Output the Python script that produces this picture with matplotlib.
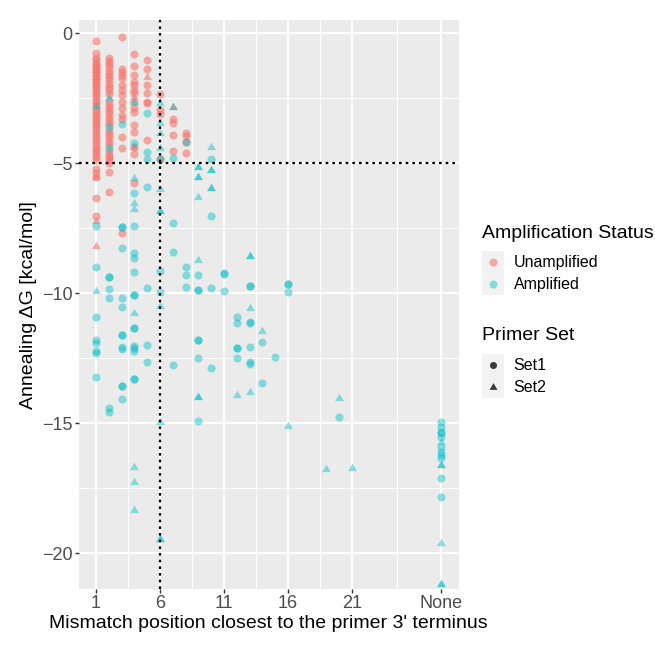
import matplotlib
matplotlib.use("Agg")
import matplotlib.pyplot as plt
from matplotlib.patches import Rectangle

plt.rcParams['font.family'] = ['Liberation Sans', 'DejaVu Sans']

# data: mismatch position (28 = "None") and annealing dG
# Unamplified, primer Set1
unamp_s1_x = [1]*47 + [2]*32 + [3]*15 + [4]*15 + [5]*7 + [6]*4 + [7]*4 + [8]*4
unamp_s1_y = [-0.30, -0.78, -0.95, -1.05, -1.15, -1.22, -1.30, -1.38, -1.48, -1.55,
              -1.65, -1.75, -1.85, -1.95, -2.05, -2.12, -2.22, -2.32, -2.40, -2.50,
              -2.60, -2.70, -2.80, -2.95, -3.05, -3.15, -3.25, -3.35, -3.45, -3.55,
              -3.65, -3.78, -3.88, -4.00, -4.10, -4.22, -4.35, -4.45, -4.55, -4.65,
              -4.75, -4.88, -5.24, -5.37, -5.55, -6.36, -7.04,
              -0.97, -1.08, -1.20, -1.32, -1.45, -1.58, -1.70, -1.82, -1.95, -2.08,
              -2.20, -2.35, -2.62, -2.75, -2.88, -3.00, -3.12, -3.25, -3.38, -3.50,
              -3.75, -3.88, -4.00, -4.15, -4.28, -4.55, -4.68, -4.78, -4.88, -5.01,
              -5.33, -6.10,
              -0.16, -1.38, -1.49, -1.62, -1.74, -2.00, -2.19, -2.38, -2.64, -2.90,
              -3.15, -3.32, -3.99, -4.44, -7.68,
              -0.82, -1.25, -1.62, -1.90, -2.00, -2.19, -2.32, -2.64, -2.90, -3.03,
              -3.54, -3.79, -4.40, -4.65, -5.76,
              -1.02, -1.39, -2.01, -2.32, -2.64, -2.71, -4.12,
              -2.36, -2.95, -3.12, -4.84,
              -3.32, -3.45, -3.93, -4.54,
              -3.86, -3.98, -4.18, -4.63]

# Unamplified, primer Set2
unamp_s2_x = [1]*7 + [4]*2 + [5, 7]
unamp_s2_y = [-1.42, -1.55, -1.68, -1.80, -5.55, -7.23, -8.19,
              -2.45, -4.37, -1.68, -2.83]

# Amplified, primer Set1
amp_s1_x = ([1]*8 + [2]*8 + [3]*13 + [4]*15 + [5]*7 + [6]*3 + [7]*4 + [8]*4
            + [9]*7 + [10]*4 + [11]*3 + [12]*5 + [13]*7 + [14]*2 + [15] + [16]*3
            + [20] + [28]*11)
amp_s1_y = [-7.41, -9.01, -10.94, -11.81, -11.91, -12.22, -12.30, -13.22,
            -3.63, -4.41, -9.37, -9.37, -9.86, -10.20, -14.44, -14.56,
            -3.50, -7.47, -7.47, -8.27, -10.20, -10.53, -11.62, -11.62, -12.06, -12.17,
            -13.58, -13.58, -14.09,
            -4.24, -6.17, -7.41, -8.45, -8.67, -9.18, -10.08, -10.08, -11.35, -11.35,
            -12.04, -12.13, -12.22, -13.31, -13.31,
            -3.08, -4.56, -4.86, -5.93, -9.82, -12.00, -12.67,
            -4.84, -9.15, -9.97,
            -4.79, -7.32, -8.41, -12.77,
            -4.18, -8.99, -9.31, -9.76,
            -9.31, -9.88, -9.88, -11.80, -11.80, -12.51, -14.91,
            -4.86, -7.03, -9.80, -12.90,
            -9.24, -9.27, -9.91,
            -10.94, -11.17, -12.13, -12.13, -12.51,
            -9.73, -9.73, -11.10, -11.17, -12.06, -12.64, -12.73,
            -11.88, -13.47,
            -12.47,
            -9.65, -9.65, -9.95,
            -14.76,
            -14.97, -15.14, -15.33, -15.40, -15.55, -15.91, -16.10, -16.23, -16.36,
            -17.13, -17.83]

# Amplified, primer Set2
amp_s2_x = ([1]*2 + [2] + [4]*8 + [6]*11 + [7] + [9]*8 + [10]*5 + [12] + [13]*4
            + [14] + [16] + [19] + [20] + [21] + [28]*6)
amp_s2_y = [-2.81, -9.91,
            -2.49,
            -2.64, -5.59, -6.53, -6.78, -10.76, -16.68, -17.26, -18.35,
            -2.68, -3.45, -3.83, -4.44, -6.01, -6.83, -6.83, -10.50, -14.95, -19.46, -19.46,
            -2.83,
            -5.15, -5.15, -5.53, -5.53, -6.32, -8.73, -13.99, -13.99,
            -4.37, -5.27, -5.27, -5.97, -5.97,
            -13.92,
            -8.56, -8.56, -10.59, -13.82,
            -11.46,
            -15.12,
            -16.77,
            -14.05,
            -16.74,
            -15.72, -16.62, -16.62, -19.60, -21.20, -21.20]

x_ticks = [1, 6, 11, 16, 21, 28]
x_labels = ['1', '6', '11', '16', '21', 'None']
y_ticks = [0, -5, -10, -15, -20]

RED = '#F8766D'
TEAL = '#00BFC4'
A_RED = 0.6
A_TEAL = 0.45
TRI = [(-1, -0.6), (1, -0.6), (0, 1.1)]

fig = plt.figure(figsize=(6.55, 6.59), dpi=100)
ax = fig.add_axes([78.7/655, 1 - 589.4/659, 380/655, 569.4/659])
ax.set_facecolor('#EBEBEB')

ax.scatter(unamp_s1_x, unamp_s1_y, s=34, c=RED, alpha=A_RED, marker='o', linewidths=0, zorder=3)
ax.scatter(unamp_s2_x, unamp_s2_y, s=48, c=RED, alpha=A_RED, marker=TRI, linewidths=0, zorder=3)
ax.scatter(amp_s1_x, amp_s1_y, s=34, c=TEAL, alpha=A_TEAL, marker='o', linewidths=0, zorder=3)
ax.scatter(amp_s2_x, amp_s2_y, s=48, c=TEAL, alpha=A_TEAL, marker=TRI, linewidths=0, zorder=3)

ax.axhline(-5, color='black', lw=1.6, ls=(0, (1.2, 1.8)), zorder=4)
ax.axvline(6, color='black', lw=1.6, ls=(0, (1.2, 1.8)), zorder=4)

ax.set_xlim(-0.35, 29.35)
ax.set_ylim(-21.4, 0.5)
ax.set_xticks(x_ticks)
ax.set_xticklabels(x_labels)
ax.set_yticks(y_ticks)
ax.set_xticks([3.5, 8.5, 13.5, 18.5, 24.5], minor=True)
ax.set_yticks([-2.5, -7.5, -12.5, -17.5], minor=True)
ax.grid(which='major', color='white', lw=1.4, zorder=0)
ax.grid(which='minor', color='white', lw=0.7, zorder=0)
ax.set_axisbelow(True)
for sp in ax.spines.values():
    sp.set_visible(False)
ax.tick_params(which='major', length=2.75, width=1.0, color='#333333',
               labelsize=13, labelcolor='#4D4D4D', pad=1.5)
ax.tick_params(which='minor', length=0)
ax.set_xlabel("Mismatch position closest to the primer 3' terminus", fontsize=14, labelpad=2)
ax.set_ylabel("Annealing \u0394G [kcal/mol]", fontsize=14, labelpad=4)

# legend drawn in pixel coordinates
lg = fig.add_axes([0, 0, 1, 1])
lg.set_xlim(0, 655)
lg.set_ylim(659, 0)
lg.axis('off')
lg.patch.set_alpha(0)

lg.text(481.5, 233, "Amplification Status", fontsize=14, va='center', ha='left')
lg.text(481.5, 336, "Primer Set", fontsize=14, va='center', ha='left')
keys = [(262, "Unamplified"), (284, "Amplified"), (365, "Set1"), (387, "Set2")]
for yc, lab in keys:
    lg.add_patch(Rectangle((481.5, yc - 11), 22, 22, facecolor='#F2F2F2', edgecolor='none'))
    lg.text(513.5, yc, lab, fontsize=11.5, va='center', ha='left')
lg.scatter([492.5], [262], s=34, c=RED, alpha=A_RED, linewidths=0)
lg.scatter([492.5], [284], s=34, c=TEAL, alpha=A_TEAL, linewidths=0)
lg.scatter([492.5], [365], s=26, c='#3A3A3A', linewidths=0)
lg.scatter([492.5], [387], s=40, c='#3A3A3A', marker=TRI, linewidths=0)

fig.savefig("out.png", dpi=100)
